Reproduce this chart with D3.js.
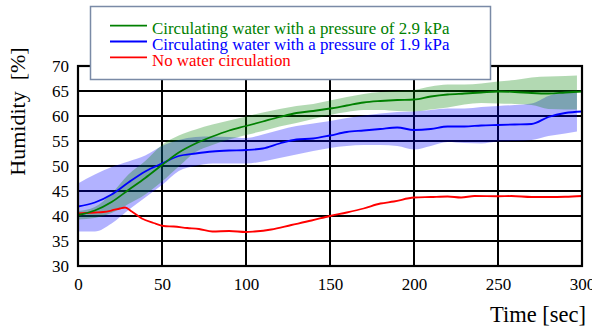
<!DOCTYPE html>
<html><head><meta charset="utf-8">
<script src="https://cdn.jsdelivr.net/npm/d3@7"></script>
<style>body{margin:0;background:#fff}svg{display:block}</style>
</head><body><svg id="c" width="592" height="329"></svg>
<script>
const time = [0,10,20,30,40,50,60,70,80,90,100,110,120,130,140,150,160,170,180,190,200,210,220,230,240,250,260,270,280,290,300];
const bandTime = [0,10,20,30,40,50,60,70,80,90,100,110,120,130,140,150,160,170,180,190,200,210,220,230,240,250,260,270,280,290,297];
const green = [40.2,41.1,42.8,45.2,47.6,50.2,52.7,54.5,55.9,57.1,58.0,58.9,59.8,60.6,61.0,61.5,62.1,62.7,63.0,63.2,63.3,63.9,64.3,64.5,64.7,64.9,64.8,64.6,64.5,64.7,64.9];
const greenUpper = [41.0,41.8,44.5,48.3,51.0,54.2,56.1,57.3,58.3,59.1,59.9,60.7,61.4,62.0,62.4,63.1,63.8,64.4,64.8,65.0,65.2,65.9,66.3,66.3,66.5,66.9,67.2,67.7,67.9,68.0,68.1];
const greenLower = [39.3,39.6,40.6,42.4,44.3,46.9,49.9,52.8,54.2,55.3,56.2,57.0,57.9,58.6,59.4,60.2,60.8,61.2,61.2,61.0,60.9,61.3,61.7,62.3,62.6,62.5,62.4,62.2,61.4,61.3,61.3];
const blue = [41.9,42.7,44.3,46.7,48.9,50.5,52.0,52.5,52.9,53.1,53.2,53.5,54.5,55.3,55.5,56.1,56.8,57.1,57.4,57.7,57.2,57.4,57.9,57.9,58.1,58.2,58.3,58.4,59.8,60.6,60.9];
const blueUpper = [46.5,48.3,49.8,50.9,52.1,54.0,55.2,55.8,55.9,55.8,55.6,56.3,57.2,58.0,58.5,59.0,59.6,60.1,60.5,60.8,60.9,61.2,61.5,61.5,61.8,62.0,62.2,62.5,64.0,64.9,64.9];
const blueLower = [36.9,36.9,38.5,41.2,43.7,46.2,49.0,50.0,50.5,50.5,50.5,50.9,51.6,52.3,53.0,53.6,54.0,54.2,54.2,54.0,53.3,54.0,54.8,54.6,54.5,54.9,55.0,55.2,56.0,56.5,56.9];
const redTime = [0,5,10,15,20,25,28,32,38,45,51,57,65,72,80,90,100,105,115,127,139,150,160,170,180,188,200,210,220,228,236,250,258,270,280,290,300];
const red = [40.5,40.6,40.7,40.8,41.1,41.5,41.7,40.9,39.5,38.6,38.0,37.9,37.6,37.4,36.9,37.0,36.8,36.9,37.3,38.2,39.1,40.0,40.7,41.5,42.5,42.9,43.7,43.8,43.9,43.7,44.0,43.95,44.0,43.8,43.8,43.85,44.0];
const xTicks = [0,50,100,150,200,250,300];
const yTicks = [30,35,40,45,50,55,60,65,70];
const legendLabels = ["Circulating water with a pressure of 2.9 kPa","Circulating water with a pressure of 1.9 kPa","No water circulation"];
const legendColors = ["#008000","#0000ff","#ff0000"];

const FONT = '"Liberation Serif"';
const svg = d3.select("#c");
const x = d3.scaleLinear().domain([0,300]).range([78,582]);
const y = d3.scaleLinear().domain([30,70]).range([266,66]);

// grid
const g = svg.append("g");
g.selectAll(".vx").data(xTicks).join("line")
  .attr("x1",d=>x(d)).attr("x2",d=>x(d)).attr("y1",y(30)).attr("y2",y(70))
  .attr("stroke","#000").attr("stroke-width",2);
g.selectAll(".hy").data(yTicks).join("line")
  .attr("x1",x(0)).attr("x2",x(300)).attr("y1",d=>y(d)).attr("y2",d=>y(d))
  .attr("stroke","#000").attr("stroke-width",2);

// bands
const area = (lo,hi)=> d3.area().x((d,i)=>x(bandTime[i])).y0((d,i)=>y(lo[i])).y1((d,i)=>y(hi[i])).curve(d3.curveMonotoneX);
svg.append("path").attr("d",area(blueLower,blueUpper)(bandTime)).attr("fill","rgba(0,0,255,0.3)");
svg.append("path").attr("d",area(greenLower,greenUpper)(bandTime)).attr("fill","rgba(0,128,0,0.3)");

// lines
const line = (tt,vv)=> d3.line().x((d,i)=>x(tt[i])).y((d,i)=>y(vv[i])).curve(d3.curveMonotoneX)(tt);
svg.append("path").attr("d",line(redTime,red)).attr("fill","none").attr("stroke","#ff0000").attr("stroke-width",1.8);
svg.append("path").attr("d",line(time,blue)).attr("fill","none").attr("stroke","#0000ff").attr("stroke-width",1.8);
svg.append("path").attr("d",line(time,green)).attr("fill","none").attr("stroke","#008000").attr("stroke-width",1.8);

// axes
const xAxis = d3.axisBottom(x).tickValues(xTicks).tickSize(0).tickPadding(12);
const yAxis = d3.axisLeft(y).tickValues(yTicks).tickSize(0).tickPadding(9);
const xa = svg.append("g").attr("transform",`translate(0,${y(30)})`).call(xAxis);
const ya = svg.append("g").attr("transform",`translate(${x(0)},0)`).call(yAxis);
[xa,ya].forEach(a=>{a.select(".domain").remove();
  a.selectAll("text").style("font-family",FONT).style("font-size","17px").attr("fill","#000");});
svg.append("rect").attr("x",x(0)).attr("y",y(70)).attr("width",x(300)-x(0)).attr("height",y(30)-y(70))
  .attr("fill","none").attr("stroke","#000").attr("stroke-width",2.2);

// axis titles
svg.append("text").attr("x",586).attr("y",322).attr("text-anchor","end")
  .style("font-family",FONT).style("font-size","22.5px").text("Time [sec]");
svg.append("text").attr("transform","translate(25,111.5) rotate(-90)").attr("text-anchor","middle")
  .style("font-family",FONT).style("font-size","22px").text("Humidity\u00A0\u00A0[%]");

// legend
const lg = svg.append("g");
lg.append("rect").attr("x",90.5).attr("y",6.5).attr("width",400).attr("height",73)
  .attr("fill","#fff").attr("stroke","#7a8aa6").attr("stroke-width",1.5);
const rowsY = [25.7,41.5,57.3];
legendLabels.forEach((lab,i)=>{
  lg.append("line").attr("x1",110).attr("x2",147).attr("y1",rowsY[i]).attr("y2",rowsY[i])
    .attr("stroke",legendColors[i]).attr("stroke-width",1.8);
  lg.append("text").attr("x",152).attr("y",rowsY[i]+8.5)
    .style("font-family",FONT).style("font-size","16.9px")
    .attr("fill",legendColors[i]).text(lab);
});
</script></body></html>
